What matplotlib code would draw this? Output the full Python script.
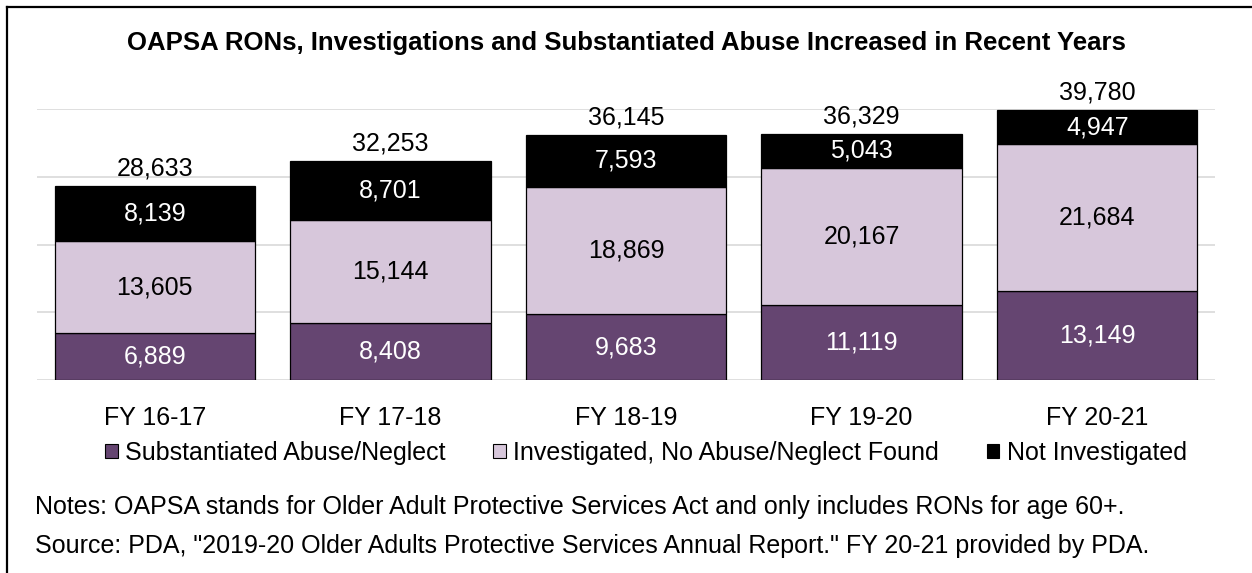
import matplotlib
matplotlib.use('Agg')
import matplotlib.pyplot as plt
from matplotlib.lines import Line2D
from matplotlib.patches import Patch
import numpy as np

plt.rcParams.update({
    'font.family': ['Liberation Sans', 'DejaVu Sans'],
    'font.size': 18,
})

C_SUB = '#654571'
C_INV = '#D7C7DB'
C_NOT = '#000000'
C_GRID = '#D9D9D9'

# datos
years = ['FY 16-17', 'FY 17-18', 'FY 18-19', 'FY 19-20', 'FY 20-21']
substantiated = [6889, 8408, 9683, 11119, 13149]
investigated = [13605, 15144, 18869, 20167, 21684]
not_investigated = [8139, 8701, 7593, 5043, 4947]
totals = [28633, 32253, 36145, 36329, 39780]

FS = 18

fig = plt.figure(figsize=(12.52, 5.73), dpi=100)
ax = fig.add_axes([37 / 1252, 193 / 573, 1178 / 1252, 271 / 573])

x = np.arange(len(years))
w = 0.85
sub = np.array(substantiated)
inv = np.array(investigated)
nin = np.array(not_investigated)

b1 = ax.bar(x, sub, w, color=C_SUB, edgecolor='black', linewidth=0.9, zorder=3)
b2 = ax.bar(x, inv, w, bottom=sub, color=C_INV, edgecolor='black', linewidth=0.9, zorder=3)
b3 = ax.bar(x, nin, w, bottom=sub + inv, color=C_NOT, edgecolor='black', linewidth=0.9, zorder=3)

ax.bar_label(b1, labels=[f'{v:,}' for v in sub], label_type='center', color='white', fontsize=FS)
ax.bar_label(b2, labels=[f'{v:,}' for v in inv], label_type='center', color='black', fontsize=FS)
ax.bar_label(b3, labels=[f'{v:,}' for v in nin], label_type='center', color='white', fontsize=FS)

for xi, t in zip(x, totals):
    ax.annotate(f'{t:,}', (xi, t), xytext=(0, 4), textcoords='offset points',
                ha='center', va='bottom', fontsize=FS, color='black', annotation_clip=False)

ax.set_xlim(-0.5, len(years) - 0.5)
ax.set_ylim(0, 40000)
ax.set_yticks(np.arange(0, 40001, 10000))
ax.yaxis.grid(True, color=C_GRID, linewidth=1.2, zorder=0)
ax.set_axisbelow(True)
ax.tick_params(axis='y', left=False, labelleft=False)
ax.tick_params(axis='x', bottom=False, pad=15)
ax.set_xticks(x)
ax.set_xticklabels(years, fontsize=FS)
for s in ax.spines.values():
    s.set_visible(False)

fig.text(0.5, 1 - 43 / 573, 'OAPSA RONs, Investigations and Substantiated Abuse Increased in Recent Years',
         ha='center', va='center', fontsize=18.5, fontweight='bold')

handles = [Patch(facecolor=C_SUB, edgecolor='black', linewidth=0.8),
           Patch(facecolor=C_INV, edgecolor='black', linewidth=0.8),
           Patch(facecolor=C_NOT, edgecolor='black', linewidth=0.8)]
fig.legend(handles, ['Substantiated Abuse/Neglect', 'Investigated, No Abuse/Neglect Found', 'Not Investigated'],
           loc='center', bbox_to_anchor=(646 / 1252, 1 - 453 / 573), ncol=3, frameon=False,
           fontsize=FS, handlelength=0.5, handleheight=0.5, handletextpad=0.3, columnspacing=1.9)

fig.text(35 / 1252, 1 - 514 / 573,
         'Notes: OAPSA stands for Older Adult Protective Services Act and only includes RONs for age 60+.',
         ha='left', va='baseline', fontsize=FS)
fig.text(35 / 1252, 1 - 553 / 573,
         'Source: PDA, "2019-20 Older Adults Protective Services Annual Report." FY 20-21 provided by PDA.',
         ha='left', va='baseline', fontsize=FS)

# marco (solo arriba e izquierda)
fig.add_artist(Line2D([7 / 1252, 1], [1 - 7 / 573, 1 - 7 / 573], color='black', lw=1.6, transform=fig.transFigure))
fig.add_artist(Line2D([7 / 1252, 7 / 1252], [0, 1 - 7 / 573], color='black', lw=1.6, transform=fig.transFigure))

fig.savefig('out.png', dpi=100, facecolor='white')
